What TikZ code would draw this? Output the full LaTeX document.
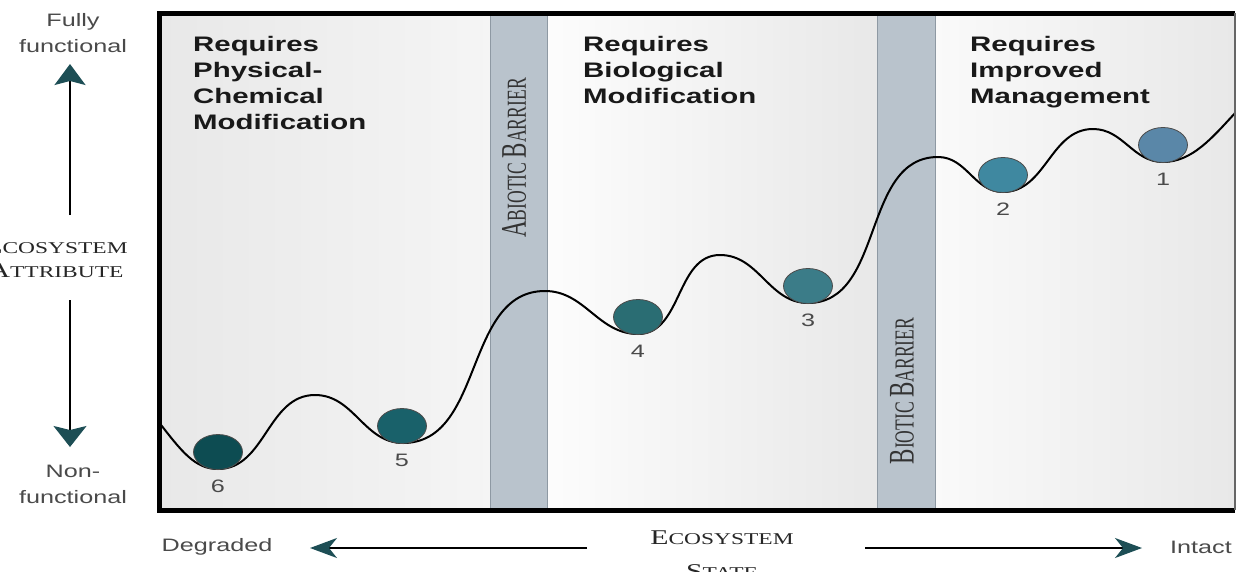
\documentclass[tikz,border=0pt]{standalone}
\usepackage{fontspec}
\usetikzlibrary{positioning,shapes.geometric,arrows.meta}

% wide faces for the labels, narrow one for the upright barrier names
\newfontfamily\headfont[FakeStretch=1.4]{Liberation Sans}
\newfontfamily\serifwide[FakeStretch=1.42]{Liberation Serif}
\newfontfamily\serifnarrow[FakeStretch=0.64]{Liberation Serif}

\definecolor{ball1}{HTML}{5A87A8}
\definecolor{ball2}{HTML}{3F88A0}
\definecolor{ball3}{HTML}{3B7C88}
\definecolor{ball4}{HTML}{2A6D73}
\definecolor{ball5}{HTML}{19616A}
\definecolor{ball6}{HTML}{0D4C52}
\definecolor{tipteal}{HTML}{1D4E55}
\definecolor{barrierfill}{HTML}{B9C3CC}
\definecolor{barrieredge}{HTML}{8E99A3}
\definecolor{labelgray}{HTML}{4A4A4A}

% small caps built by hand: big first letter, smaller rest
\newcommand{\scword}[2]{{\fontsize{21}{24}\selectfont#1}{\fontsize{16.5}{24}\selectfont#2}}
\newcommand{\barword}[2]{{\fontsize{36}{36}\selectfont#1}{\fontsize{27.5}{36}\selectfont#2}}

\tikzset{
  heading/.style={anchor=north west,inner sep=0pt,align=left,text=black!90,
    font=\headfont\bfseries\fontsize{21}{26}\selectfont},
  sidelabel/.style={inner sep=0pt,align=center,text=labelgray,
    font=\headfont\fontsize{18}{26}\selectfont},
  sclabel/.style={inner sep=0pt,align=center,text=black!85,
    font=\serifwide\fontsize{21}{24}\selectfont},
  barrierlabel/.style={inner sep=0pt,rotate=90,text=black!80,
    font=\serifnarrow\fontsize{27.5}{36}\selectfont},
  ball/.style={ellipse,draw=black!70,line width=0.8pt,minimum width=49pt,
    minimum height=35pt,inner sep=0pt},
  numlabel/.style={inner sep=0pt,text=labelgray,font=\headfont\fontsize{18}{18}\selectfont},
  axisarrow/.style={line width=1.8pt,black},
  barrier/.style={fill=barrierfill,draw=barrieredge,line width=1pt},
}

\begin{document}
\begin{tikzpicture}[x=1pt,y=-1pt]
  \useasboundingbox (0,0) rectangle (1237,571);

  % panels and barriers
  \fill[left color=black!9,right color=black!4] (159,13) rectangle (490,510);
  \fill[left color=black!1,right color=black!9] (547,13) rectangle (877,510);
  \fill[left color=black!2,right color=black!9] (935,13) rectangle (1235,510);
  \draw[barrier] (490,13) rectangle (547,510);
  \draw[barrier] (877,13) rectangle (935,510);

  \node[barrierlabel] (abiotic) at (514,158) {\barword{A}{BIOTIC} \barword{B}{ARRIER}};
  \node[barrierlabel] (biotic) at (902,391) {\barword{B}{IOTIC} \barword{B}{ARRIER}};

  \node[heading] (h1) at (193,36) {Requires\\Physical-\\Chemical\\Modification};
  \node[heading] (h2) at (583,36) {Requires\\Biological\\Modification};
  \node[heading] (h3) at (970,36) {Requires\\Improved\\Management};

  % the landscape
  \begin{scope}
    \clip (159,13) rectangle (1235,510);
    \draw[line width=2pt] (158,421) .. controls (182,452) and (195,469) .. (218,469)
      to[out=0,in=180] (315,395) to[out=0,in=180] (403,443)
      to[out=0,in=180] (545,291) to[out=0,in=180] (638,334)
      to[out=0,in=180] (720,255) to[out=0,in=180] (808,303)
      to[out=0,in=180] (938,157) to[out=0,in=180] (1003,192)
      to[out=0,in=180] (1093,129) to[out=0,in=180] (1163,162)
      .. controls (1192,162) and (1212,138) .. (1236,112);
  \end{scope}

  \foreach \n/\x/\y in {6/218/452, 5/402/426, 4/638/317, 3/808/286, 2/1003/175, 1/1163/145}{
    \node[ball, fill=ball\n] (b\n) at (\x,\y) {};
    \node[numlabel, below=10pt of b\n] (n\n) {\n};
  }

  \draw[line width=5pt] (1235,13) -- (159,13) -- (159,510) -- (1235,510);
  \draw[line width=1.5pt,black!60] (1235,13) -- (1235,510);

  % vertical axis
  \node[sidelabel] (full) at (73,33) {Fully\\functional};
  \node[sidelabel] (nonf) at (73,484) {Non-\\functional};
  \node[sclabel] (attr) at (56,259) {\scword{E}{COSYSTEM}\\\scword{A}{TTRIBUTE}};
  \coordinate (upfrom) at (70,215);
  \coordinate (upto) at (70,64);
  \coordinate (downfrom) at (70,300);
  \coordinate (downto) at (70,447);
  \draw[axisarrow,-{Stealth[length=21pt,width=31pt,inset=4pt,color=tipteal]}] (upfrom) -- (upto);
  \draw[axisarrow,-{Stealth[length=21pt,width=33pt,inset=4pt,color=tipteal]}] (downfrom) -- (downto);

  % horizontal axis
  \node[sidelabel] (degr) at (217,547) {Degraded};
  \node[sidelabel] (intact) at (1201,547) {Intact};
  \node[sclabel] (state) at (722,555) {\scword{E}{COSYSTEM}\\[10pt]\scword{S}{TATE}};
  \coordinate (leftfrom) at (587,548);
  \coordinate (leftto) at (310,548);
  \coordinate (rightfrom) at (865,548);
  \coordinate (rightto) at (1142,548);
  \draw[axisarrow,-{Stealth[length=27pt,width=20pt,inset=8pt,color=tipteal]}] (leftfrom) -- (leftto);
  \draw[axisarrow,-{Stealth[length=27pt,width=20pt,inset=8pt,color=tipteal]}] (rightfrom) -- (rightto);
\end{tikzpicture}
\end{document}
